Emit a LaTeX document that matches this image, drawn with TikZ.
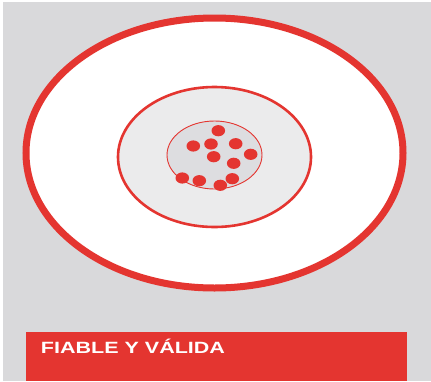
\documentclass[tikz,border=0pt]{standalone}
\usepackage{fontspec}
\setmainfont{Liberation Sans}
\usepackage{xcolor}
\usepackage{tikz}
\usetikzlibrary{positioning,calc}

\definecolor{tgtred}{HTML}{E43530}
\definecolor{bggray}{HTML}{D9D9DB}
\definecolor{ringgray}{HTML}{EBEBEC}
\definecolor{coregray}{HTML}{DDDDE0}

\tikzset{
  ring/.style={draw=tgtred},
  hit/.style={fill=tgtred},
  banner/.style={fill=tgtred, draw=none},
  bannertext/.style={text=white, font=\bfseries\fontsize{16.3}{18}\selectfont, inner sep=0pt, xscale=1.32}
}

\begin{document}
\begin{tikzpicture}[x=1pt, y=-1pt]
\useasboundingbox (0,0) rectangle (431,381);
\fill[white] (0,0) rectangle (431,381);
\fill[bggray] (3,2) rectangle (431,381);
% target rings
\fill[white, ring, line width=7pt] (214.5,153) ellipse [x radius=188.5, y radius=135];
\fill[ringgray, ring, line width=2.6pt] (214.5,157) ellipse [x radius=96.5, y radius=70];
\fill[coregray, ring, line width=0.9pt] (214.5,155) ellipse [x radius=47.5, y radius=34];
% shots
\foreach \hx/\hy in {218.3/130.7, 193.3/146, 211/144, 235.7/143.7, 250.7/154.3,
    213.7/156.7, 233.7/163.3, 182.3/178, 199.3/180.7, 220.3/185.3, 232.3/178.7}
  \fill[hit] (\hx,\hy) ellipse [x radius=6.8, y radius=5.6];
% caption
\fill[banner] (25.7,331.7) rectangle (407,381);
\node[bannertext, anchor=base west] (caption) at (40.7,353.3) {FIABLE Y VÁLIDA};
\end{tikzpicture}
\end{document}
